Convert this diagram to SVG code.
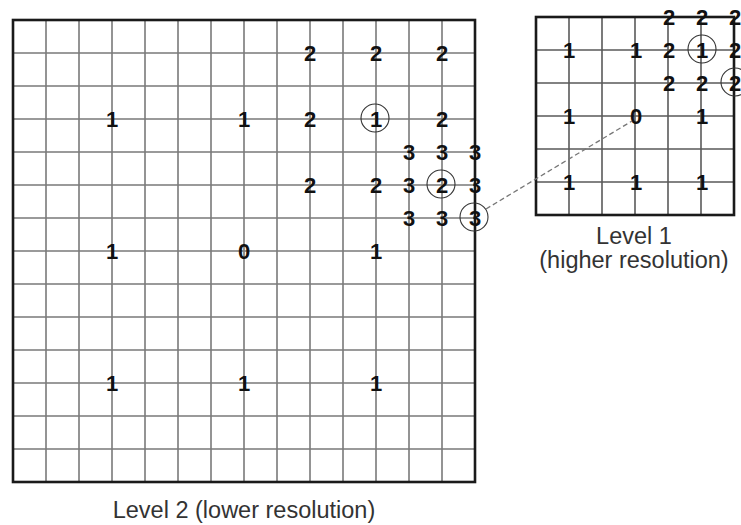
<svg xmlns="http://www.w3.org/2000/svg" width="741" height="525" viewBox="0 0 741 525">
<style>
.g{stroke:#7a7a7a;stroke-width:1.6;fill:none}
.b{stroke:#1a1a1a;stroke-width:2.6;fill:none}
.d{font-family:"Liberation Sans",Arial,sans-serif;font-weight:bold;font-size:22px;fill:#111;text-anchor:middle}
.c{stroke:#333;stroke-width:1.1;fill:none}
.l{font-family:"Liberation Sans",Arial,sans-serif;font-size:23.5px;fill:#333;text-anchor:middle}
</style>
<rect width="741" height="525" fill="#fff"/>
<g id="level2">
<path class="g" d="M46 20V482M79 20V482M112 20V482M145 20V482M178 20V482M211 20V482M244 20V482M277 20V482M310 20V482M343 20V482M376 20V482M409 20V482M442 20V482M13 53H475M13 86H475M13 119H475M13 152H475M13 185H475M13 218H475M13 251H475M13 284H475M13 317H475M13 350H475M13 383H475M13 416H475M13 449H475"/>
<rect class="b" x="13" y="20" width="462" height="462"/>
<g class="d">
<text x="310" y="60.5">2</text><text x="376" y="60.5">2</text><text x="442" y="60.5">2</text>
<text x="112" y="126.5">1</text><text x="244" y="126.5">1</text><text x="310" y="126.5">2</text><text x="376" y="126.5">1</text><text x="442" y="126.5">2</text>
<text x="409" y="159.5">3</text><text x="442" y="159.5">3</text><text x="475" y="159.5">3</text>
<text x="310" y="192.5">2</text><text x="376" y="192.5">2</text><text x="409" y="192.5">3</text><text x="442" y="192.5">2</text><text x="475" y="192.5">3</text>
<text x="409" y="225.5">3</text><text x="442" y="225.5">3</text><text x="475" y="225.5">3</text>
<text x="112" y="258.5">1</text><text x="244" y="258.5">0</text><text x="376" y="258.5">1</text>
<text x="112" y="390.5">1</text><text x="244" y="390.5">1</text><text x="376" y="390.5">1</text>
</g>
<circle class="c" cx="375" cy="118" r="14"/>
<circle class="c" cx="441" cy="184" r="14"/>
<circle class="c" cx="474" cy="217" r="14"/>
</g>
<g id="level1">
<path class="g" style="stroke:#5a5a5a" d="M569 17V215M602 17V215M635 17V215M668 17V215M701 17V215M536 50H734M536 83H734M536 116H734M536 149H734M536 182H734"/>
<rect class="b" x="536" y="17" width="198" height="198"/>
<g class="d">
<text x="669" y="24.5">2</text><text x="702" y="24.5">2</text><text x="735" y="24.5">2</text>
<text x="569" y="57.5">1</text><text x="636" y="57.5">1</text><text x="669" y="57.5">2</text><text x="702" y="57.5">1</text><text x="735" y="57.5">2</text>
<text x="669" y="90.5">2</text><text x="702" y="90.5">2</text><text x="735" y="90.5">2</text>
<text x="569" y="123.5">1</text><text x="636" y="123.5">0</text><text x="702" y="123.5">1</text>
<text x="569" y="189.5">1</text><text x="636" y="189.5">1</text><text x="702" y="189.5">1</text>
</g>
<circle class="c" cx="702" cy="49" r="14"/>
<circle class="c" cx="735" cy="82" r="14"/>
</g>
<g id="connectors">
<line x1="486" y1="209" x2="632" y2="121" stroke="#777" stroke-width="1.3" stroke-dasharray="5,3"/>
</g>
<g id="labels">
<text class="l" x="244" y="518">Level 2 (lower resolution)</text>
<text class="l" x="634" y="244">Level 1</text>
<text class="l" x="634" y="268">(higher resolution)</text>
</g>
</svg>
